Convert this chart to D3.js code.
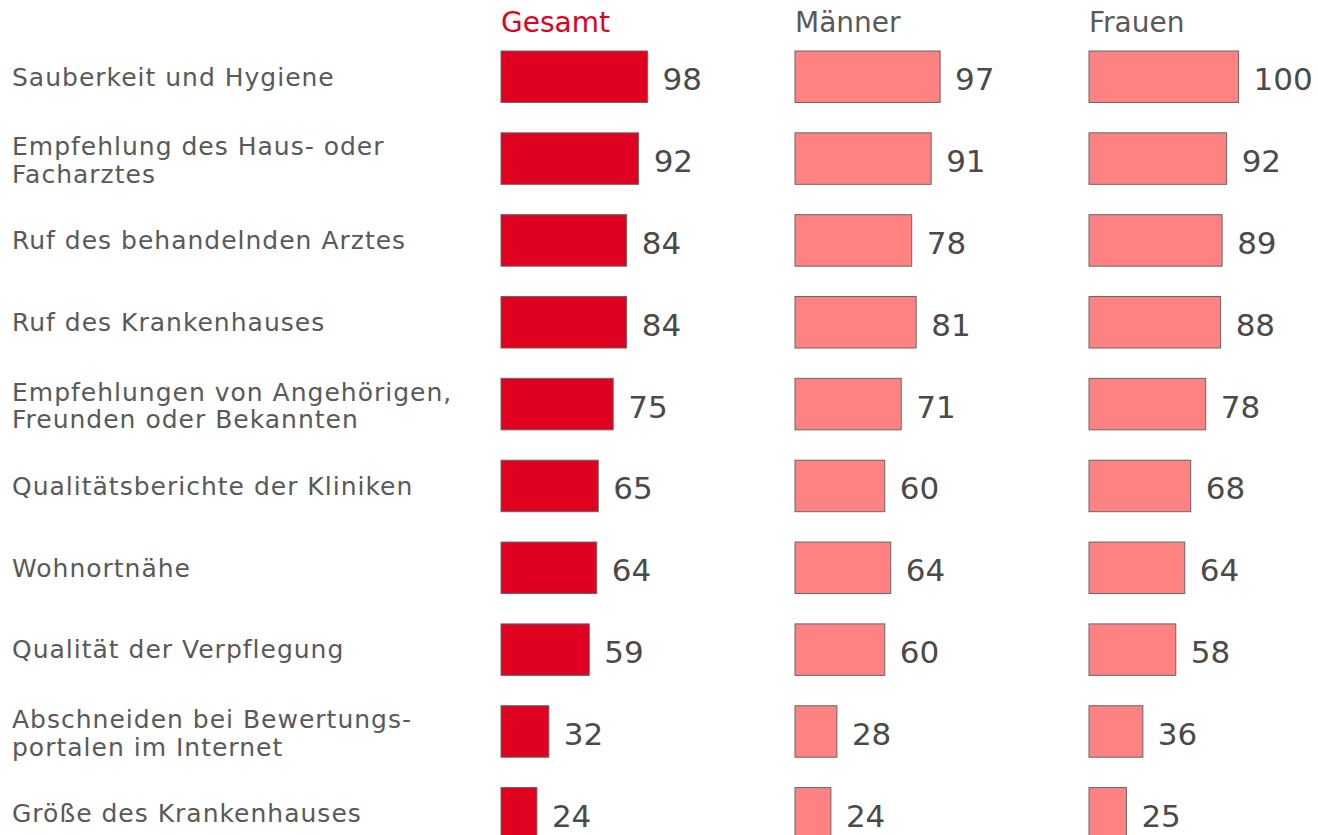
<!DOCTYPE html>
<html>
<head>
<meta charset="utf-8">
<script src="https://cdnjs.cloudflare.com/ajax/libs/d3/7.8.5/d3.min.js"></script>
<style>
  body { margin: 0; background: #fff; }
  text { font-family: "DejaVu Sans", Verdana, sans-serif; }
</style>
</head>
<body>
<div id="chart"></div>
<script>
// categories (line breaks as in the original labels)
var categories = [
  'Sauberkeit und Hygiene',
  'Empfehlung des Haus- oder\nFacharztes',
  'Ruf des behandelnden Arztes',
  'Ruf des Krankenhauses',
  'Empfehlungen von Angehörigen,\nFreunden oder Bekannten',
  'Qualitätsberichte der Kliniken',
  'Wohnortnähe',
  'Qualität der Verpflegung',
  'Abschneiden bei Bewertungs-\nportalen im Internet',
  'Größe des Krankenhauses'
];
var seriesNames = ['Gesamt', 'Männer', 'Frauen'];
var gesamt = [98, 92, 84, 84, 75, 65, 64, 59, 32, 24];
var maenner = [97, 91, 78, 81, 71, 60, 64, 60, 28, 24];
var frauen = [100, 92, 89, 88, 78, 68, 64, 58, 36, 25];

var seriesValues = [gesamt, maenner, frauen];
var barColors = ['#e00020', '#ff8282', '#ff8282'];
var headColors = ['#e00020', '#595959', '#595959'];

var width = 1318, height = 835;

var svg = d3.select('#chart').append('svg')
    .attr('width', width)
    .attr('height', height);

var col = d3.scalePoint()
    .domain(seriesNames)
    .range([501, 1089]);

var y = d3.scaleBand()
    .domain(categories)
    .range([51, 51 + 9 * 81.84 + 51.5])
    .paddingInner(0.371)
    .paddingOuter(0);

var x = d3.scaleLinear()
    .domain([0, 100])
    .range([0, 149.6]);

// category labels
svg.append('g').selectAll('text')
    .data(categories)
    .enter()
    .append('text')
    .attr('x', 12)
    .attr('font-size', 25)
    .attr('letter-spacing', 1)
    .attr('fill', '#595959')
    .each(function(d) {
      var lines = d.split('\n');
      var c = y(d) + y.bandwidth() / 2;
      var t = d3.select(this);
      lines.forEach(function(line, i) {
        var base = lines.length == 1 ? c + 8.8 : c + 10.3 + (i - 0.5) * 27.6;
        t.append('tspan')
          .attr('x', 12)
          .attr('y', base)
          .text(line);
      });
    });

// one column per series
seriesNames.forEach(function(name, si) {
  var g = svg.append('g')
      .attr('transform', 'translate(' + col(name) + ',0)');

  g.append('text')
      .attr('x', 0)
      .attr('y', 32)
      .attr('font-size', 28)
      .attr('fill', headColors[si])
      .text(name);

  var rows = categories.map(function(c, i) { return { cat: c, v: seriesValues[si][i] }; });

  g.selectAll('rect')
      .data(rows)
      .enter()
      .append('rect')
      .attr('x', x(0))
      .attr('y', function(d) { return y(d.cat); })
      .attr('width', function(d) { return x(d.v); })
      .attr('height', y.bandwidth())
      .attr('fill', barColors[si])
      .attr('stroke', '#666')
      .attr('stroke-width', 1);

  g.selectAll('text.val')
      .data(rows)
      .enter()
      .append('text')
      .attr('class', 'val')
      .attr('x', function(d) { return x(d.v) + 15; })
      .attr('y', function(d) { return y(d.cat) + y.bandwidth() / 2 + 13.5; })
      .attr('font-size', 31)
      .attr('fill', '#4a4a4a')
      .text(function(d) { return d.v; });
});
</script>
</body>
</html>
